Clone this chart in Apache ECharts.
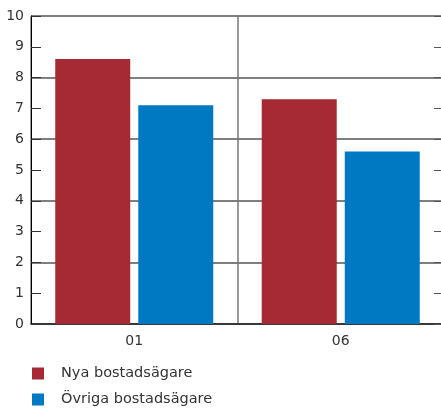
<!DOCTYPE html>
<html>
<head>
<meta charset="utf-8">
<script src="https://cdn.jsdelivr.net/npm/echarts@6/dist/echarts.min.js"></script>
<style>
  html, body { margin: 0; padding: 0; background: #fff; }
  #chart { width: 441px; height: 408px; }
</style>
</head>
<body>
<div id="chart"></div>
<script>
// Years on the category axis
const categories = ['01', '06'];
// Share per group
const nyaBostadsagare = [8.6, 7.3];
const ovrigaBostadsagare = [7.1, 5.6];
const seriesNames = ['Nya bostadsägare', 'Övriga bostadsägare'];
const seriesColors = ['#A52A33', '#0079C2'];

const FONT = 'DejaVu Sans';
const TEXT = '#333';

const chart = echarts.init(document.getElementById('chart'), null, { renderer: 'canvas' });

// One legend block per series, stacked vertically under the plot
function legendRow(name, top) {
  return {
    orient: 'vertical',
    left: 32,
    top: top,
    padding: 0,
    itemWidth: 12,
    itemHeight: 12,
    icon: 'rect',
    textStyle: { fontFamily: FONT, fontSize: 14.5, color: TEXT, padding: [0, 0, 0, 12] },
    data: [name]
  };
}

chart.setOption({
  animation: false,
  grid: { left: 31, top: 16, width: 413, height: 308, outerBoundsMode: 'none', containLabel: false },
  legend: [legendRow(seriesNames[0], 366), legendRow(seriesNames[1], 392)],
  xAxis: {
    type: 'category',
    data: categories,
    axisLine: { lineStyle: { color: '#222', width: 1.5 } },
    axisTick: { show: false },
    axisLabel: { fontFamily: FONT, fontSize: 14, color: TEXT, margin: 10 },
    splitLine: { show: true, lineStyle: { color: '#777', width: 1.5 } }
  },
  yAxis: [
    {
      type: 'value', min: 0, max: 10, interval: 1, position: 'left',
      axisLine: { show: true, lineStyle: { color: '#000', width: 1 } },
      axisTick: { show: true, inside: true, length: 10, lineStyle: { color: '#333' } },
      axisLabel: { fontFamily: FONT, fontSize: 14, color: TEXT, margin: 7 },
      splitLine: { show: false }
    },
    {
      type: 'value', min: 0, max: 10, interval: 1, position: 'right',
      axisLine: { show: false },
      axisTick: { show: true, inside: true, length: 10, lineStyle: { color: '#555' } },
      axisLabel: { show: false },
      splitLine: { show: false }
    },
    {
      type: 'value', min: 0, max: 10, interval: 2, position: 'left',
      axisLine: { show: false },
      axisTick: { show: false },
      axisLabel: { show: false },
      splitLine: { show: true, lineStyle: { color: '#555', width: 1.5 } }
    }
  ],
  series: [
    {
      name: seriesNames[0], type: 'bar', data: nyaBostadsagare,
      barWidth: 75, barGap: '10.7%', barCategoryGap: '23%',
      itemStyle: { color: seriesColors[0] }, z: 3
    },
    {
      name: seriesNames[1], type: 'bar', data: ovrigaBostadsagare,
      barWidth: 75, barGap: '10.7%',
      itemStyle: { color: seriesColors[1] }, z: 3
    }
  ]
});
</script>
</body>
</html>
